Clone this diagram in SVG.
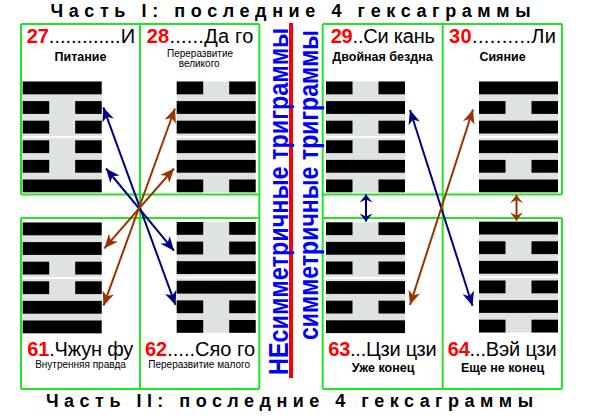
<svg xmlns="http://www.w3.org/2000/svg" width="600" height="419" viewBox="0 0 600 419">
<style>
text{font-family:"Liberation Sans",Arial,sans-serif;}
.title{font-size:18px;font-weight:bold;fill:#000;}
.num{font-size:20px;fill:#000;}
.red{fill:#ff0000;font-weight:bold;}
.sub{font-size:12.5px;font-weight:bold;fill:#000;text-anchor:middle;}
.sub2{font-size:10px;fill:#000;text-anchor:middle;}
.vt{font-size:27px;font-weight:bold;fill:#0000ff;}
.fr{stroke:#22e622;stroke-width:2;fill:none;}
.bg{fill:#dfe3df;}
.blue{stroke:#000080;stroke-width:2;fill:none;}
.brown{stroke:#993300;stroke-width:2;fill:none;}
</style>
<defs>
<rect id="yang" width="79" height="12.8" fill="#000"/>
<g id="yin" fill="#000"><rect width="26.5" height="12.8"/><rect x="52.5" width="26.5" height="12.8"/></g>
<g id="bgs"><rect class="bg" width="79" height="54.5"/><rect class="bg" y="56.5" width="79" height="54.3"/></g>
<marker id="hb" viewBox="-15 -7 16 14" markerWidth="16" markerHeight="14" refX="0" refY="0" orient="auto-start-reverse" markerUnits="userSpaceOnUse"><path d="M0,0 L-14,-6 L-10,0 L-14,6 Z" fill="#000080"/></marker>
<marker id="hr" viewBox="-15 -7 16 14" markerWidth="16" markerHeight="14" refX="0" refY="0" orient="auto-start-reverse" markerUnits="userSpaceOnUse"><path d="M0,0 L-14,-6 L-10,0 L-14,6 Z" fill="#993300"/></marker>
<marker id="sb" viewBox="-9 -7 10 14" markerWidth="10" markerHeight="14" refX="0" refY="0" orient="auto-start-reverse" markerUnits="userSpaceOnUse"><path d="M0,0 L-8,-6.5 L-5,0 L-8,6.5 Z" fill="#000080"/></marker>
<marker id="sr" viewBox="-9 -7 10 14" markerWidth="10" markerHeight="14" refX="0" refY="0" orient="auto-start-reverse" markerUnits="userSpaceOnUse"><path d="M0,0 L-8,-6.5 L-5,0 L-8,6.5 Z" fill="#993300"/></marker>
</defs>
<rect width="600" height="419" fill="#fff"/>

<text class="title" x="50.5" y="17.3" textLength="480" lengthAdjust="spacing">Часть I: последние 4 гексаграммы</text>
<text class="title" x="46" y="407.3" textLength="487" lengthAdjust="spacing">Часть II: последние 4 гексаграммы</text>

<g id="frames">
<path class="fr" d="M21,24H259.3M21,194.5H259.3M21,218H259.3M21,389H259.3M21,24V194.5M21,218V389M140,24V389M259.3,24V389"/>
<path class="fr" d="M322.7,24H562M322.7,194.5H562M322.7,218H562M322.7,389H562M322.7,24V389M442.7,24V389M562,24V194.5M562,218V389"/>
</g>

<g id="divider">
<rect x="289" y="23" width="4" height="355" fill="#ff0000"/>
<text class="vt" transform="translate(288.3,375) rotate(-90)" textLength="347" lengthAdjust="spacingAndGlyphs">НЕсимметричные триграммы</text>
<text class="vt" transform="translate(317.7,340) rotate(-90)" textLength="310" lengthAdjust="spacingAndGlyphs">симметричные триграммы</text>
</g>

<g id="hex27">
<text class="num" x="26.7" y="43.3" textLength="108.3" lengthAdjust="spacing"><tspan class="red">27</tspan>.............И</text>
<text class="sub" x="80.5" y="60.7">Питание</text>
<g transform="translate(22.7,81.5)"><use href="#bgs"/><use href="#yang"/><use href="#yin" y="19.6"/><use href="#yin" y="39.2"/><use href="#yin" y="58.8"/><use href="#yin" y="78.4"/><use href="#yang" y="98"/></g>
</g>
<g id="hex28">
<text class="num" x="146.7" y="43.3" textLength="106.6" lengthAdjust="spacing"><tspan class="red">28</tspan>......Да го</text>
<text class="sub2" x="200" y="56.7">Переразвитие</text>
<text class="sub2" x="199.2" y="66.7">великого</text>
<g transform="translate(176.7,81.5)"><use href="#bgs"/><use href="#yin"/><use href="#yang" y="19.6"/><use href="#yang" y="39.2"/><use href="#yang" y="58.8"/><use href="#yang" y="78.4"/><use href="#yin" y="98"/></g>
</g>
<g id="hex29">
<text class="num" x="330.7" y="43.3" textLength="104.3" lengthAdjust="spacing"><tspan class="red">29</tspan>..Си кань</text>
<text class="sub" x="382.5" y="60.7">Двойная бездна</text>
<g transform="translate(326,81.5)"><use href="#bgs"/><use href="#yin"/><use href="#yang" y="19.6"/><use href="#yin" y="39.2"/><use href="#yin" y="58.8"/><use href="#yang" y="78.4"/><use href="#yin" y="98"/></g>
</g>
<g id="hex30">
<text class="num" x="449" y="43.3" textLength="107" lengthAdjust="spacing"><tspan class="red">30</tspan>..........Ли</text>
<text class="sub" x="502.5" y="60.7">Сияние</text>
<g transform="translate(479,81.5)"><use href="#bgs"/><use href="#yang"/><use href="#yin" y="19.6"/><use href="#yang" y="39.2"/><use href="#yang" y="58.8"/><use href="#yin" y="78.4"/><use href="#yang" y="98"/></g>
</g>
<g id="hex61">
<g transform="translate(22.7,222.5)"><use href="#bgs"/><use href="#yang"/><use href="#yang" y="19.6"/><use href="#yin" y="39.2"/><use href="#yin" y="58.8"/><use href="#yang" y="78.4"/><use href="#yang" y="98"/></g>
<text class="num" x="27.3" y="355.7" textLength="106" lengthAdjust="spacing"><tspan class="red">61</tspan>.Чжун фу</text>
<text class="sub2" x="80.5" y="368.3" font-size="10.5">Внутренняя правда</text>
</g>
<g id="hex62">
<g transform="translate(176.7,222)"><use href="#bgs"/><use href="#yin"/><use href="#yin" y="19.6"/><use href="#yang" y="39.2"/><use href="#yang" y="58.8"/><use href="#yin" y="78.4"/><use href="#yin" y="98"/></g>
<text class="num" x="145" y="355.7" textLength="110" lengthAdjust="spacing"><tspan class="red">62</tspan>.....Сяо го</text>
<text class="sub2" x="199.2" y="368.3" font-size="10.5">Переразвитие малого</text>
</g>
<g id="hex63">
<g transform="translate(326,222.3)"><use href="#bgs"/><use href="#yin"/><use href="#yang" y="19.6"/><use href="#yin" y="39.2"/><use href="#yang" y="58.8"/><use href="#yin" y="78.4"/><use href="#yang" y="98"/></g>
<text class="num" x="328.3" y="355.7" textLength="108.4" lengthAdjust="spacing"><tspan class="red">63</tspan>...Цзи цзи</text>
<text class="sub" x="383" y="372.3">Уже конец</text>
</g>
<g id="hex64">
<g transform="translate(479,221.7)"><use href="#bgs"/><use href="#yang"/><use href="#yin" y="19.6"/><use href="#yang" y="39.2"/><use href="#yin" y="58.8"/><use href="#yang" y="78.4"/><use href="#yin" y="98"/></g>
<text class="num" x="447.7" y="355.7" textLength="109" lengthAdjust="spacing"><tspan class="red">64</tspan>...Вэй цзи</text>
<text class="sub" x="502.5" y="372.3">Еще не конец</text>
</g>

<g id="connectors">
<path class="blue" d="M103.3,107.3L175.5,305" marker-start="url(#hb)" marker-end="url(#hb)"/>
<path class="blue" d="M106,168.5L174,250.7" marker-start="url(#hb)" marker-end="url(#hb)"/>
<path class="brown" d="M175,108.5L103.5,305.7" marker-start="url(#hr)" marker-end="url(#hr)"/>
<path class="brown" d="M174,168.5L104.3,248.3" marker-start="url(#hr)" marker-end="url(#hr)"/>
<path class="blue" d="M410,110L472.5,305.7" marker-start="url(#hb)" marker-end="url(#hb)"/>
<path class="brown" d="M473,109.5L410,305" marker-start="url(#hr)" marker-end="url(#hr)"/>
<path class="blue" d="M366,194.5V221.5" marker-start="url(#sb)" marker-end="url(#sb)"/>
<path class="brown" d="M516.5,195V220.5" marker-start="url(#sr)" marker-end="url(#sr)"/>
</g>
</svg>
